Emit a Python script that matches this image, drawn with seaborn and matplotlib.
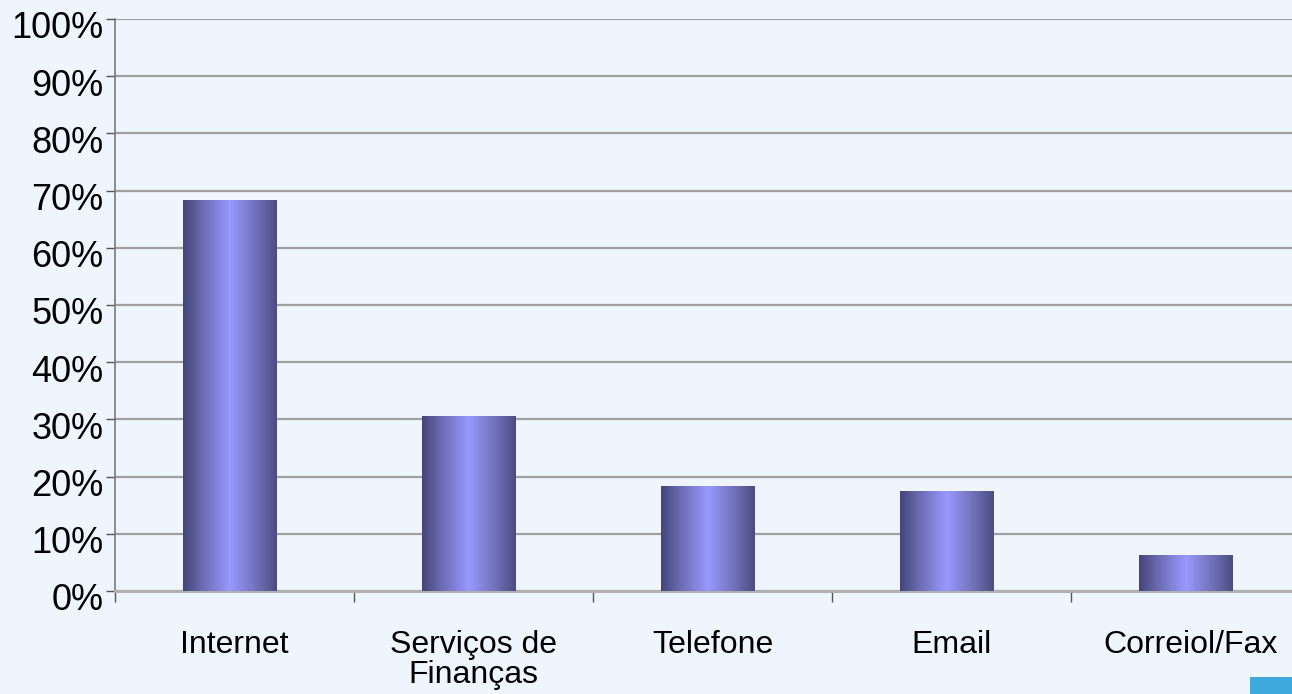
import numpy as np
import pandas as pd
import seaborn as sns
import matplotlib.pyplot as plt
import matplotlib.transforms as mtransforms
from matplotlib.colors import LinearSegmentedColormap
from matplotlib.patches import Rectangle

# data
categories = ["Internet", "Serviços de\nFinanças", "Telefone", "Email", "Correiol/Fax"]
values = [68.4, 30.6, 18.4, 17.5, 6.3]
yticks = list(range(0, 101, 10))
ytick_labels = [f"{v}%" for v in yticks]

df = pd.DataFrame({"cat": categories, "val": values})

bg = "#EEF5FC"
sns.set_theme(style="white")
plt.rcParams["font.family"] = ["Liberation Sans", "DejaVu Sans"]

fig = plt.figure(figsize=(12.92, 6.94), dpi=100, facecolor=bg)
W, H = 1292, 694
ax = fig.add_axes([115 / W, 1 - 591 / H, 1195 / W, (591 - 19) / H])
ax.set_facecolor(bg)

sns.barplot(data=df, x="cat", y="val", color="#9999FF", width=0.39,
            saturation=1, ax=ax, zorder=3)

# horizontal gradient on each bar
cmap = LinearSegmentedColormap.from_list(
    "bar", [(0.0, "#45457a"), (0.2, "#6a6ab0"), (0.5, "#9999FF"),
            (0.8, "#6e6eb4"), (1.0, "#4c4c82")])
grad = np.linspace(0, 1, 256).reshape(1, -1)
for p in ax.patches:
    x0, y0 = p.get_x(), p.get_y()
    w, h = p.get_width(), p.get_height()
    im = ax.imshow(grad, cmap=cmap, aspect="auto", extent=[x0, x0 + w, y0, y0 + h],
                   zorder=4, interpolation="bilinear")
    im.set_clip_path(p)
    p.set_edgecolor("none")
ax.set_xlim(-0.48, 4.52)
ax.set_ylim(0, 100)

# grid and axes
ax.set_yticks(yticks)
ax.set_yticklabels(ytick_labels, fontsize=26, color="black")
ax.yaxis.grid(True, color="#a0a0a0", linewidth=1.6, zorder=0)
ax.set_axisbelow(True)
ax.tick_params(axis="y", direction="out", length=6.5, width=1, color="#555555", pad=2,
               left=True)
offset = mtransforms.ScaledTranslation(0, -6 / 100, fig.dpi_scale_trans)
for lab in ax.get_yticklabels():
    lab.set_transform(lab.get_transform() + offset)

ax.set_xticks([i + 0.02 for i in range(5)])
ax.set_xticklabels(categories, fontsize=23, color="black", linespacing=1.0)
ax.set_xticks([-0.48, 0.52, 1.52, 2.52, 3.52], minor=True)
ax.tick_params(axis="x", which="major", length=0, pad=28)
ax.tick_params(axis="x", which="minor", direction="out", length=8, width=1,
               color="#555555", bottom=True)

for s in ["top", "right"]:
    ax.spines[s].set_visible(False)
ax.spines["left"].set_color("#7a7a7a")
ax.spines["left"].set_linewidth(1.2)
ax.spines["bottom"].set_color("#b0b0b0")
ax.spines["bottom"].set_linewidth(2.2)
ax.set_xlabel("")
ax.set_ylabel("")

# small blue corner square
fig.patches.append(Rectangle((1250 / W, 0), 42 / W, 17 / H, transform=fig.transFigure,
                             facecolor="#3FA9DE", edgecolor="none"))

fig.savefig("out.png", dpi=100, facecolor=bg)
